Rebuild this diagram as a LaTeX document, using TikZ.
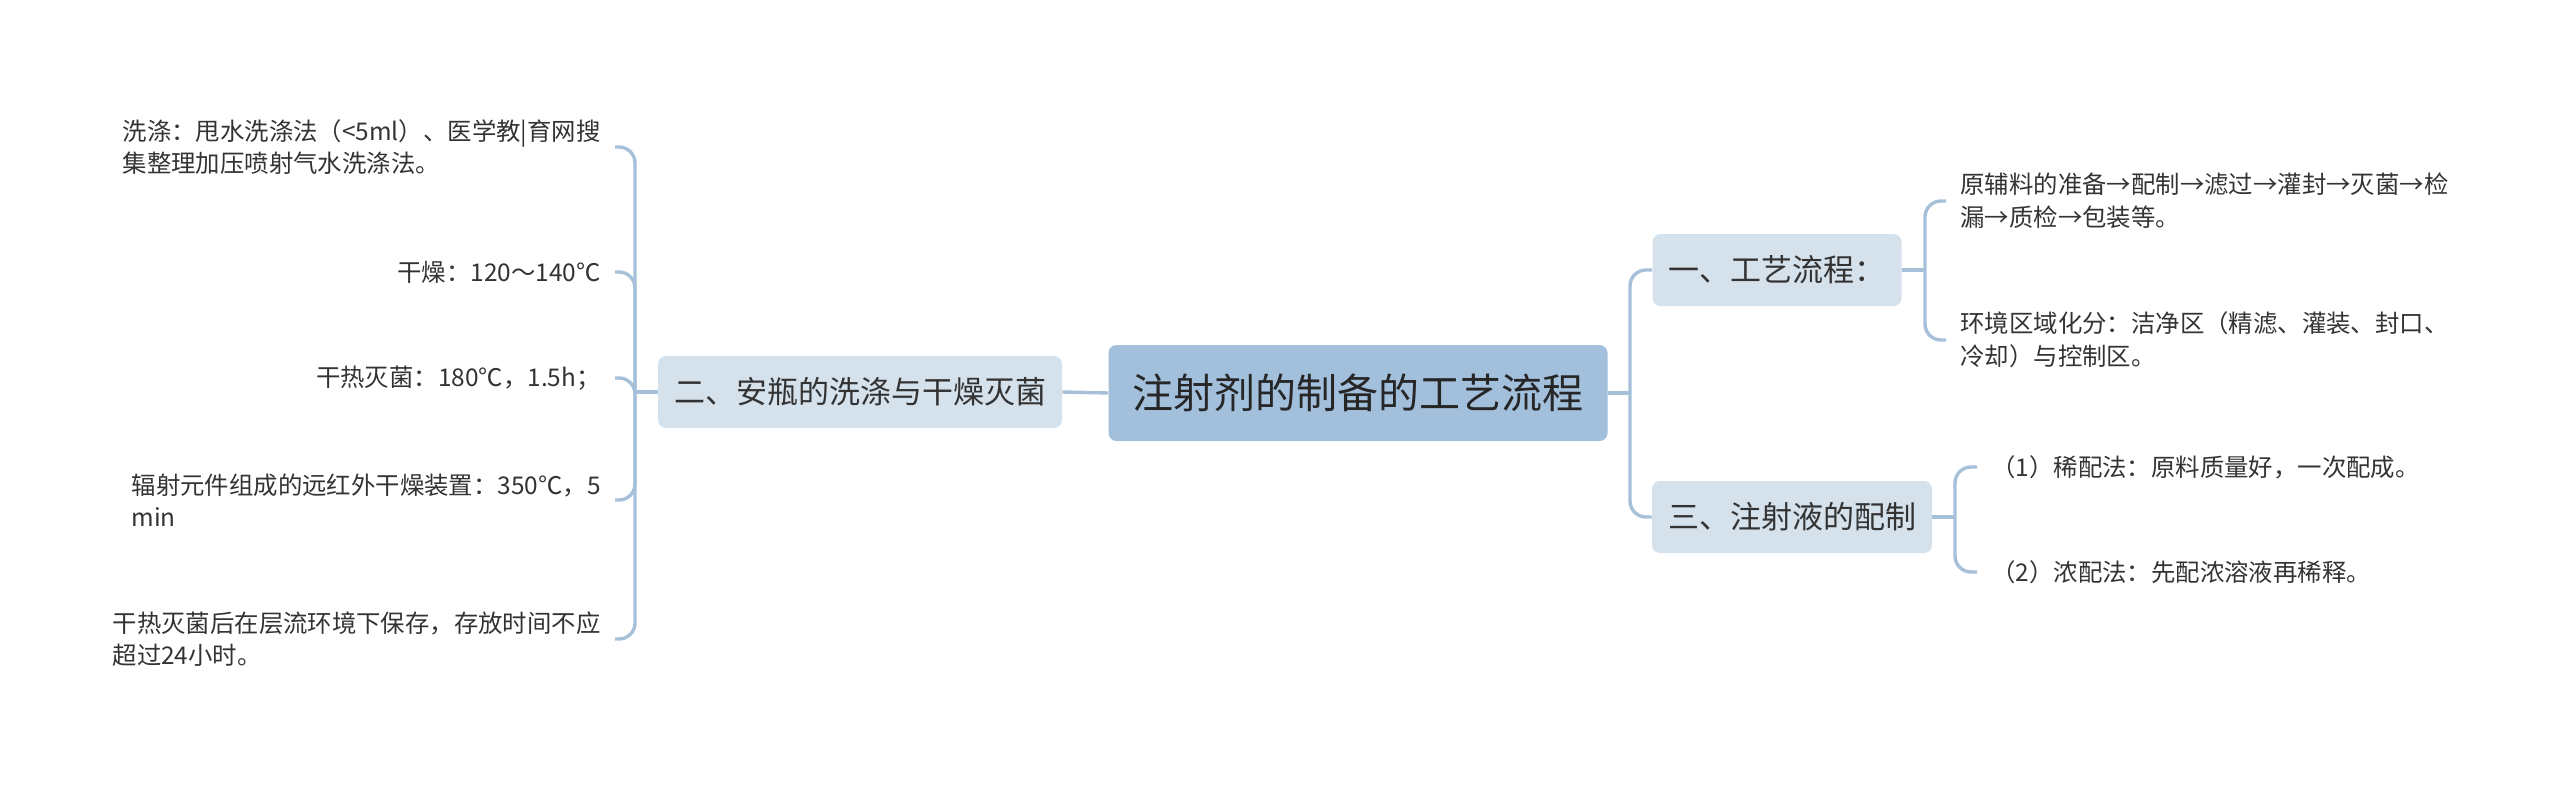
\documentclass[tikz,border=0pt]{standalone}
\usepackage{fontspec}
\setmainfont{Noto Sans CJK SC}
\usetikzlibrary{positioning}
\definecolor{rootblue}{HTML}{A2BFDC}
\definecolor{branchgray}{HTML}{D5E1EB}
\definecolor{linkblue}{HTML}{A6C0DA}
\definecolor{inkgray}{HTML}{333333}
\tikzset{
	rootbox/.style={fill=rootblue, rounded corners=4pt, inner xsep=12pt, minimum height=48pt, font=\fontsize{20.5}{24}\selectfont, text=black!85}
}
\tikzset{
	branchbox/.style={fill=branchgray, rounded corners=4pt, inner xsep=8pt, minimum height=36pt, font=\fontsize{15.5}{19}\selectfont, text=inkgray}
}
\tikzset{
	leaftext/.style={align=left, inner xsep=7pt, inner ysep=2pt, font=\fontsize{12.2}{16.3}\selectfont, text=inkgray},
	link/.style={draw=linkblue, line width=1.7pt, rounded corners=8pt}
}

\begin{document}
\begin{tikzpicture}[x=0.5pt, y=-0.5pt]
      \useasboundingbox (0,0) rectangle (2560,787);
      % centre and main branches
      \node[rootbox] (root) at (1358,393) {注射剂的制备的工艺流程};
      \node[branchbox] (wash) at (860,392) {二、安瓶的洗涤与干燥灭菌};
      \node[branchbox] (flow) at (1777,270) {一、工艺流程：};
      \node[branchbox] (mix) at (1792,517) {三、注射液的配制};
      \coordinate (lj) at (635,392);
      \coordinate (rj) at (1630,393);
      \coordinate (fj) at (1925,270);
      \coordinate (mj) at (1955,517);
      % left leaves
      \node[leaftext, anchor=east] (w1) at (615,147) {洗涤：甩水洗涤法（<5ml）、医学教|育网搜\\集整理加压喷射气水洗涤法。};
      \node[leaftext, anchor=east] (w2) at (615,272) {干燥：120～140℃};
      \node[leaftext, anchor=east] (w3) at (615,378) {干热灭菌：180℃，1.5h；};
      \node[leaftext, anchor=east] (w4) at (615,500) {辐射元件组成的远红外干燥装置：350℃，5\\min};
      \node[leaftext, anchor=east] (w5) at (615,639) {干热灭菌后在层流环境下保存，存放时间不应\\超过24小时。};
      % right leaves
      \node[leaftext, anchor=west] (f1) at (1946,201) {原辅料的准备→配制→滤过→灌封→灭菌→检\\漏→质检→包装等。};
      \node[leaftext, anchor=west] (f2) at (1946,340) {环境区域化分：洁净区（精滤、灌装、封口、\\冷却）与控制区。};
      \node[leaftext, anchor=west] (m1) at (1977,467) {（1）稀配法：原料质量好，一次配成。};
      \node[leaftext, anchor=west] (m2) at (1977,572) {（2）浓配法：先配浓溶液再稀释。};
      % links
      \draw[link] (root.west) -- (wash.east);
      \draw[link] (wash.west) -- (lj);
      \foreach \leaf in {w1,w2,w3,w4,w5}
        \draw[link] (lj) |- (\leaf.east);
      \draw[link] (root.east) -- (rj);
      \foreach \kid in {flow,mix}
        \draw[link] (rj) |- (\kid.west);
      \draw[link] (flow.east) -- (fj);
      \foreach \leaf in {f1,f2}
        \draw[link] (fj) |- (\leaf.west);
      \draw[link] (mix.east) -- (mj);
      \foreach \leaf in {m1,m2}
        \draw[link] (mj) |- (\leaf.west);
\end{tikzpicture}
\end{document}
